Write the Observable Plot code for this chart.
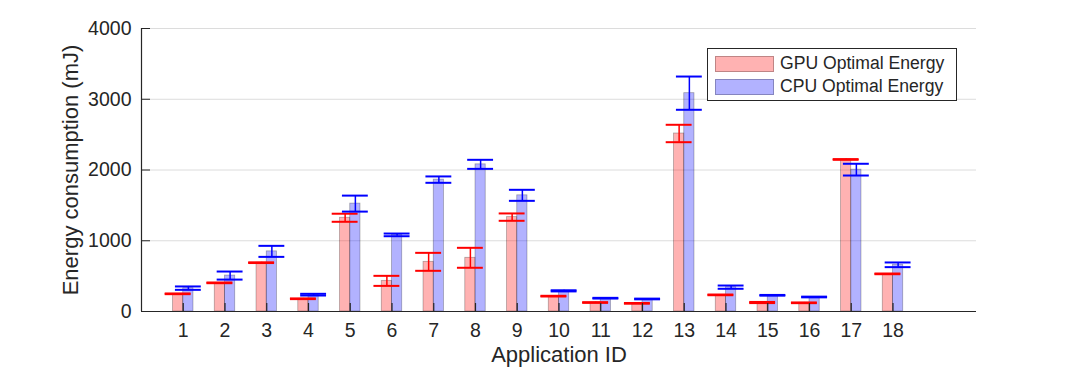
<!DOCTYPE html>
<html>
<head>
<meta charset="utf-8">
<script src="https://cdn.jsdelivr.net/npm/d3@7"></script>
<script src="https://cdn.jsdelivr.net/npm/@observablehq/plot@0.6"></script>
<style>
  html, body { margin: 0; padding: 0; background: #fff; }
  #wrap { position: relative; width: 1078px; height: 372px; font-family: "Liberation Sans", Arial, sans-serif; }
  #legend { position: absolute; left: 707px; top: 48px; width: 248px; height: 51px; border: 1px solid #262626; background: #fff; }
  .row { position: absolute; left: 7px; height: 17px; display: flex; align-items: center; }
  .sw { width: 59px; height: 16px; box-sizing: border-box; border: 1px solid rgba(0,0,0,0.25); }
  .lab { margin-left: 6px; font-size: 17.6px; color: #262626; white-space: nowrap; }
</style>
</head>
<body>
<div id="wrap"></div>
<script>
// ---- data ----
const appIds = [1, 2, 3, 4, 5, 6, 7, 8, 9, 10, 11, 12, 13, 14, 15, 16, 17, 18];
const gpuEnergy = [250, 405, 690, 180, 1325, 433, 702, 759, 1334, 217, 127, 115, 2516, 235, 127, 123, 2149, 532];
const gpuError  = [5, 5, 5, 5, 57, 71, 127, 141, 52, 5, 5, 5, 123, 5, 8, 5, 5, 5];
const cpuEnergy = [330, 508, 850, 238, 1525, 1083, 1864, 2080, 1642, 292, 188, 177, 3086, 344, 229, 205, 2005, 660];
const cpuError  = [24, 57, 78, 12, 113, 19, 45, 64, 78, 8, 5, 5, 235, 23, 5, 5, 83, 33];
const yTicks = [0, 1000, 2000, 3000, 4000];
const seriesNames = ["GPU Optimal Energy", "CPU Optimal Energy"];
const xLabel = "Application ID";
const yLabel = "Energy consumption (mJ)";

const rows = appIds.map((id, i) => ({
  id, gpu: gpuEnergy[i], gErr: gpuError[i], cpu: cpuEnergy[i], cErr: cpuError[i]
}));

const bw = 0.245;   // bar width in x units
const cw = 0.62;    // error cap width in x units
const ink = "#262626";

const chart = Plot.plot({
  width: 1078,
  height: 372,
  marginLeft: 141,
  marginRight: 102,
  marginTop: 28,
  marginBottom: 61,
  style: { fontFamily: "'Liberation Sans', Arial, sans-serif", color: ink, background: "#fff" },
  x: { domain: [0, 20] },
  y: { domain: [0, 4000] },
  marks: [
    Plot.gridY(yTicks, { stroke: "#dcdcdc", strokeOpacity: 1 }),
    // GPU bars
    Plot.rect(rows, { x1: d => d.id - bw, x2: d => d.id, y1: 0, y2: "gpu",
      fill: "red", fillOpacity: 0.3, stroke: "black", strokeOpacity: 0.3, strokeWidth: 0.8 }),
    // CPU bars
    Plot.rect(rows, { x1: d => d.id, x2: d => d.id + bw, y1: 0, y2: "cpu",
      fill: "blue", fillOpacity: 0.3, stroke: "black", strokeOpacity: 0.3, strokeWidth: 0.8 }),
    // GPU error bars
    Plot.ruleX(rows, { x: d => d.id - bw / 2, y1: d => d.gpu - d.gErr, y2: d => d.gpu + d.gErr, stroke: "red", strokeWidth: 1.5 }),
    Plot.ruleY(rows, { y: d => d.gpu + d.gErr, x1: d => d.id - bw / 2 - cw / 2, x2: d => d.id - bw / 2 + cw / 2, stroke: "red", strokeWidth: 2 }),
    Plot.ruleY(rows, { y: d => d.gpu - d.gErr, x1: d => d.id - bw / 2 - cw / 2, x2: d => d.id - bw / 2 + cw / 2, stroke: "red", strokeWidth: 2 }),
    // CPU error bars
    Plot.ruleX(rows, { x: d => d.id + bw / 2, y1: d => d.cpu - d.cErr, y2: d => d.cpu + d.cErr, stroke: "blue", strokeWidth: 1.5 }),
    Plot.ruleY(rows, { y: d => d.cpu + d.cErr, x1: d => d.id + bw / 2 - cw / 2, x2: d => d.id + bw / 2 + cw / 2, stroke: "blue", strokeWidth: 2 }),
    Plot.ruleY(rows, { y: d => d.cpu - d.cErr, x1: d => d.id + bw / 2 - cw / 2, x2: d => d.id + bw / 2 + cw / 2, stroke: "blue", strokeWidth: 2 }),
    // inward tick marks
    Plot.tickX(appIds, { x: d => d, insetTop: 275, stroke: ink, strokeWidth: 1.2 }),
    Plot.tickY(yTicks, { y: d => d, insetRight: 826, stroke: ink, strokeWidth: 1 }),
    // axis lines
    Plot.ruleX([0], { stroke: ink, strokeWidth: 1.2 }),
    Plot.ruleY([0], { stroke: ink, strokeWidth: 1.2 }),
    // tick labels
    Plot.axisX(appIds, { tickSize: 0, tickPadding: 12, fontSize: 19.5, label: null, color: ink }),
    Plot.axisY(yTicks, { tickSize: 0, tickPadding: 10, fontSize: 19.5, label: null, color: ink, tickFormat: d => String(d) }),
    // axis titles
    Plot.text([xLabel], { frameAnchor: "bottom", dy: 50, text: d => d, fontSize: 22, fill: ink, textAnchor: "middle" }),
    Plot.text([yLabel], { frameAnchor: "left", dx: -71, rotate: -90, text: d => d, fontSize: 22, fill: ink, textAnchor: "middle" })
  ]
});

const wrap = document.getElementById("wrap");
wrap.appendChild(chart);

const legend = document.createElement("div");
legend.id = "legend";
const swColors = ["rgba(255,0,0,0.3)", "rgba(0,0,255,0.3)"];
seriesNames.forEach((name, i) => {
  const row = document.createElement("div");
  row.className = "row";
  row.style.top = (6 + i * 23) + "px";
  const sw = document.createElement("div");
  sw.className = "sw";
  sw.style.background = swColors[i];
  const lab = document.createElement("span");
  lab.className = "lab";
  lab.textContent = name;
  row.appendChild(sw);
  row.appendChild(lab);
  legend.appendChild(row);
});
wrap.appendChild(legend);
</script>
</body>
</html>
